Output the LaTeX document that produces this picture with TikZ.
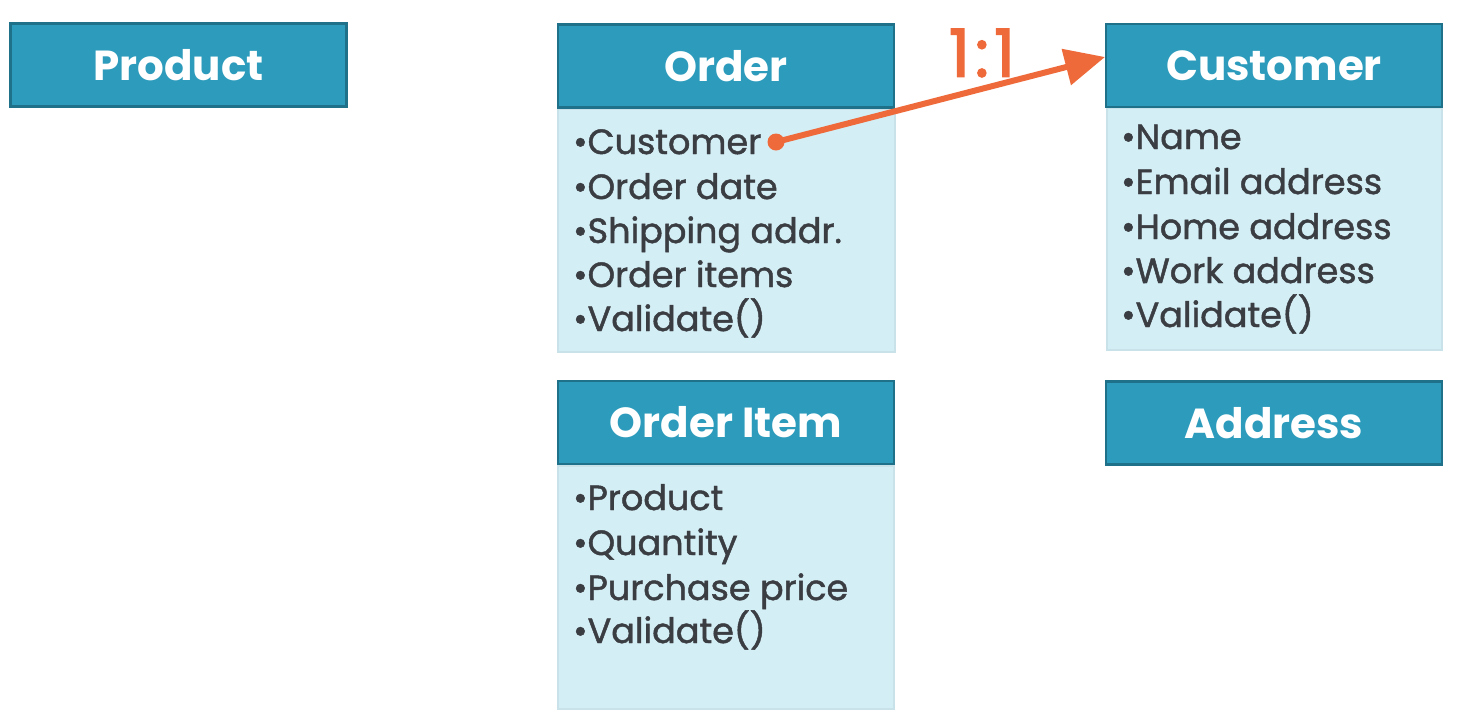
\documentclass[tikz,border=0pt]{standalone}
\usepackage{fontspec}
\setmainfont{Poppins}
\newfontfamily\medfont{Poppins}[FakeBold=1.3]
\newfontfamily\semifont{Poppins}[FakeBold=2.2]
\usetikzlibrary{arrows.meta}
\definecolor{hdr}{HTML}{2C9BBC}
\definecolor{hdrline}{HTML}{1E7189}
\definecolor{bodyfill}{HTML}{D4EEF5}
\definecolor{bodyline}{HTML}{C9E2EA}
\definecolor{txt}{HTML}{3A3D42}
\definecolor{accent}{HTML}{EE6A3A}
\tikzset{
  hdrbox/.style={draw=hdrline, line width=2.5pt, fill=hdr, minimum width=336, minimum height=83, inner sep=0pt,
    text=white, font=\fontsize{42}{44}\selectfont\bfseries},
  bodybox/.style={draw=bodyline, line width=1.5pt, fill=bodyfill},
  item/.style={anchor=base west, inner sep=0pt, text=txt, font=\medfont\fontsize{35}{37}\selectfont},
}
\begin{document}
\begin{tikzpicture}[x=1pt,y=-1pt]
\useasboundingbox (0,0) rectangle (1462,716);
\fill[white] (0,0) rectangle (1462,716);
% bodies
\node[bodybox, anchor=north west, minimum width=337, minimum height=243, inner sep=0pt] (obody) at (557,108) {};
\node[bodybox, anchor=north west, minimum width=336, minimum height=243, inner sep=0pt] (oibody) at (557,465) {};
\node[bodybox, anchor=north west, minimum width=335, minimum height=242, inner sep=0pt] (cbody) at (1106,107) {};
% headers
\node[hdrbox] (product) at (178.5,65) {Product};
\node[hdrbox] (order) at (726,66) {Order};
\node[hdrbox] (orderitem) at (726,422.5) {Order Item};
\node[hdrbox] (customer) at (1274,65.5) {Customer};
\node[hdrbox] (address) at (1274,423) {Address};
% order items
\node[item] (o1) at (573,154) {•Customer};
\node[item] (o2) at (573,199) {•Order date};
\node[item] (o3) at (573,243) {•Shipping addr.};
\node[item] (o4) at (573,287) {•Order items};
\node[item] (o5) at (573,331) {•Validate()};
% order item items
\node[item] (i1) at (573,510) {•Product};
\node[item] (i2) at (573,555) {•Quantity};
\node[item] (i3) at (573,600) {•Purchase price};
\node[item] (i4) at (573,643) {•Validate()};
% customer items
\node[item] (c1) at (1121,149) {•Name};
\node[item] (c2) at (1121,194) {•Email address};
\node[item] (c3) at (1121,239) {•Home address};
\node[item] (c4) at (1121,283) {•Work address};
\node[item] (c5) at (1121,327) {•Validate()};
% relation
\coordinate (dot) at (776,142);
\coordinate (tip) at (1105,57);
\fill[accent] (dot) circle (8.5);
\draw[accent, line width=6pt, -{Triangle[length=40pt, width=36pt]}] (dot) -- (tip);
\node[text=accent, font=\semifont\fontsize{66}{68}\selectfont, inner sep=0pt] (ratio) at (982,53) {1\kern5pt:\kern5pt1};
\end{tikzpicture}
\end{document}
